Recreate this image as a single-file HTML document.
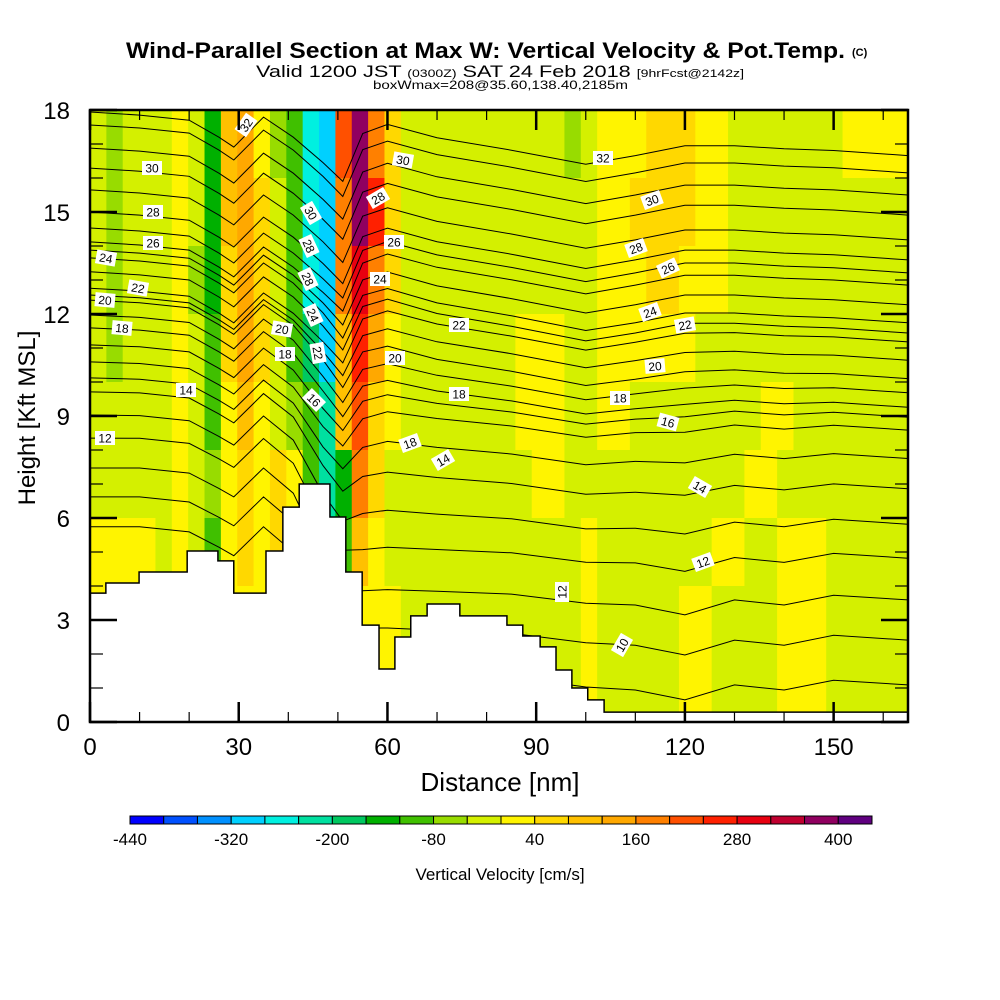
<!DOCTYPE html>
<html><head><meta charset="utf-8"><style>
body{margin:0;background:#fff}
svg{display:block}
text{font-family:"Liberation Sans",sans-serif}
</style></head><body>
<svg id="chart" width="1000" height="1000" viewBox="0 0 1000 1000">
<g id="titles">
<text x="126" y="58" font-size="22" font-weight="bold" textLength="719" lengthAdjust="spacingAndGlyphs">Wind-Parallel Section at Max W: Vertical Velocity &amp; Pot.Temp.</text>
<text x="852" y="56" font-size="11" font-weight="bold">(C)</text>
<text x="256" y="77" font-size="17" textLength="488" lengthAdjust="spacingAndGlyphs">Valid 1200 JST <tspan font-size="11">(0300Z)</tspan> SAT 24 Feb 2018 <tspan font-size="11">[9hrFcst@2142z]</tspan></text>
<text x="373" y="89" font-size="12" textLength="255" lengthAdjust="spacingAndGlyphs">boxWmax=208@35.60,138.40,2185m</text>
</g>
<defs><clipPath id="plotClip"><rect x="90" y="110" width="818" height="612"/></clipPath></defs>
<g id="field" clip-path="url(#plotClip)"></g>
<g id="contours" clip-path="url(#plotClip)"></g>
<g id="terrain"></g>
<g id="clabels" clip-path="url(#plotClip)"></g>
<g id="axes"></g>
<g id="colorbar"></g>
</svg>
<script>
// ---------- data ----------
const colorBins = ["#0000ff","#0050ff","#0090ff","#00d0ff","#00f0e0","#00e0a0","#00c860","#00b000","#40c000","#98dc00","#d4f000","#fff400","#ffd800","#ffc000","#ffa800","#ff8000","#ff5000","#ff2000","#e80010","#c00030","#900060","#600080"];
const colorbarTicks = [-440,-320,-200,-80,40,160,280,400];
// vertical velocity bin codes per 3.3 nm column, rows of 2 kft (top row = 16-18 kft)
const wRowsTop = ["a9aaaba7deb9843gkfcaaaaaaaaaa9abbbcccbbaaaaaaabbbb",
                  "a9aaaba7deca843fkhcaaaaaaaaaaaabbccccbbaaaaaaaaaaa",
                  "a9aaab97ceca843fifcaaaaaaaaaaaabbbccbbbaaaaaaaaaaa"];
const wRowsMid = ["a9aaaba8ceca863dhebaaaaaaabbbaabbbbbbaaaaaaaaaaaaa",
                  "aaaaaba8bdba985dgcbaaaaaaabbbaabbaaaaaaaabbaaaaaaa",
                  "aaaaaba9bcbcb857fcaaaaaaaaabbaaaaaaaaaaabbaaaaaaaa"];
const wRowsLow = ["bbbbaba8bcbcbaa8dbaaaaaaaaaaaabaaaaaaabbaabbbaaaaa",
                  "bbbbbbbbbbbbbbbbbbbaaaaaaaaaaabaaaaabbaaaabbbaaaaa",
                  "bbbbbbbbbbbbbbbbbbbaaaaaaaaaaabaaaaabbaaaabbbaaaaa"];
// terrain steps (nm edges, kft heights)
const terrainEdges = [0,3.2,9.9,19.6,25.8,29.0,35.5,38.9,42.2,48.4,51.6,54.9,58.3,61.5,64.7,68.0,74.6,84.1,87.3,90.8,94.0,97.2,100.4,103.7,165];
const terrainHeights = [3.79,4.09,4.41,5.03,4.74,3.79,5.03,6.32,7.0,6.03,4.41,2.85,1.56,2.5,3.12,3.47,3.12,2.85,2.53,2.21,1.53,1.0,0.65,0.29];
// potential temperature contours
const thetaLevels = [9,10,11,12,13,14,15,16,17,18,19,20,21,22,23,24,25,26,27,28,29,30,31,32,33];
const thetaLeftKft = [5.74,6.62,7.47,8.35,9.03,9.71,10.12,10.59,11.09,11.59,11.97,12.41,12.56,12.76,13.24,13.65,13.88,14.12,14.53,15.0,15.65,16.29,16.88,17.56,17.94];
const thetaRightKft = [0.94,2.26,3.44,4.71,5.79,6.91,7.85,8.74,9.18,9.53,10.0,10.47,11.03,11.59,11.88,12.18,12.71,13.29,13.65,14.03,14.62,15.35,15.94,16.59,17.1];
const knotsNm = [0,10,20,26,29,35,41,47,51,55,60,70,85,100,110,120,130,140,150,165];
const rampWeights = [0,0,0,0,0,0,0,0.2,0.5,0.75,0.85,0.9,0.92,0.95,1,1,1,1,1,1];
const dispHigh = [0,-0.09,-0.24,-0.74,-1.03,-0.15,-0.74,-1.32,-1.62,0,0.35,0,-0.35,-0.74,-0.44,-0.15,-0.15,-0.24,-0.29,-0.44];
const dispLow = [0,0,-0.15,-0.6,-0.85,0,-0.74,-1.76,-1.47,-0.59,-0.15,0,0,-0.15,0,-0.29,0.15,0,0.29,0.15];
const yTicks = [0,3,6,9,12,15,18];
const xTicks = [0,30,60,90,120,150];
const contourLabels = [
 [152,168,"30",0],[153,212,"28",0],[153,243,"26",0],[106,258,"24",10],[138,288,"22",10],[105,300,"20",5],[122,328,"18",5],[186,390,"14",0],[105,438,"12",0],
 [246,125,"32",-55],[311,213,"30",60],[309,246,"28",65],[308,279,"28",65],[313,315,"24",65],[318,353,"22",80],[314,400,"16",45],[282,329,"20",10],[285,354,"18",0],
 [403,160,"30",10],[378,198,"28",-30],[394,242,"26",0],[380,279,"24",0],[395,358,"20",0],[459,394,"18",0],[410,443,"18",-20],[443,460,"14",-30],[459,325,"22",0],
 [603,158,"32",0],[652,200,"30",-20],[636,248,"28",-20],[668,268,"26",-25],[650,312,"24",-20],[685,325,"22",-10],[655,366,"20",-5],[620,398,"18",0],
 [668,422,"16",15],[700,487,"14",30],[703,562,"12",-20],[562,592,"12",-90],[622,645,"10",-60]];

// ---------- scales ----------
const X0=90, X1=908, Y0=722, Y1=110, XMAX=165, YMAX=18;
function sx(nm){return X0+nm*(X1-X0)/XMAX;}
function sy(k){return Y0-k*(Y0-Y1)/YMAX;}
const NS="http://www.w3.org/2000/svg";
function mk(tag,attrs,parent){const e=document.createElementNS(NS,tag);for(const k in attrs)e.setAttribute(k,attrs[k]);parent.appendChild(e);return e;}
function code2bin(ch){return parseInt(ch,36);}

// ---------- field ----------
const field=document.getElementById('field');
const wRows=[].concat(wRowsTop,wRowsMid,wRowsLow);
const nCols=wRows[0].length, colNm=XMAX/nCols, rowKft=YMAX/wRows.length;
wRows.forEach((row,r)=>{
  for(let c=0;c<nCols;c++){
    const b=code2bin(row[c]);
    const top=YMAX-r*rowKft;
    const el=mk('rect',{x:sx(c*colNm),y:sy(top),width:sx((c+1)*colNm)-sx(c*colNm)+0.5,height:sy(top-rowKft)-sy(top)+0.5,fill:colorBins[b]},field);
    
    
  }
});

// ---------- contours ----------
const cg=document.getElementById('contours');
thetaLevels.forEach((lv,i)=>{
  const hL=thetaLeftKft[i], hR=thetaRightKft[i];
  const w=Math.max(0,Math.min(1,(hL-8)/5));
  const pts=knotsNm.map((nm,k)=>{
    const h=hL+(hR-hL)*rampWeights[k]+w*dispHigh[k]+(1-w)*dispLow[k];
    return sx(nm).toFixed(1)+","+sy(h).toFixed(1);
  });
  const pl=mk('polyline',{points:pts.join(" "),fill:"none",stroke:"#000","stroke-width":1},cg);
  
  
});

// ---------- terrain ----------
const tg=document.getElementById('terrain');
let d="M"+sx(0)+","+sy(0);
terrainHeights.forEach((h,i)=>{d+=" L"+sx(terrainEdges[i])+","+sy(h)+" L"+sx(terrainEdges[i+1])+","+sy(h);});
d+=" L"+sx(XMAX)+","+sy(0)+" Z";
const tp=mk('path',{d:d,fill:"#fff",stroke:"#000","stroke-width":1.5},tg);



// ---------- contour labels ----------
const lg=document.getElementById('clabels');
contourLabels.forEach(l=>{
  const g=mk('g',{transform:"translate("+l[0]+","+l[1]+") rotate("+l[3]+")"},lg);
  
  
  mk('rect',{x:-10,y:-7,width:20,height:14,fill:"#fff"},g);
  const t=mk('text',{x:0,y:4.5,"font-size":12,"text-anchor":"middle",fill:"#000"},g);
  t.textContent=l[2];
});

// ---------- axes ----------
const ag=document.getElementById('axes');
const frame=mk('rect',{x:X0,y:Y1,width:X1-X0,height:Y0-Y1,fill:"none",stroke:"#000","stroke-width":2.5},ag);


for(let k=0;k<=18;k++){
  const maj=k%3===0, L=maj?27:13, y=sy(k);
  mk('line',{x1:X0,y1:y,x2:X0+L,y2:y,stroke:"#000","stroke-width":maj?2.5:1.2},ag);
  mk('line',{x1:X1,y1:y,x2:X1-L,y2:y,stroke:"#000","stroke-width":maj?2.5:1.2},ag);
}
for(let n=0;n<=160;n+=10){
  const maj=n%30===0, L=maj?20:10, x=sx(n);
  mk('line',{x1:x,y1:Y0,x2:x,y2:Y0-L,stroke:"#000","stroke-width":maj?2.5:1.2},ag);
  mk('line',{x1:x,y1:Y1,x2:x,y2:Y1+L,stroke:"#000","stroke-width":maj?2.5:1.2},ag);
}
yTicks.forEach(v=>{
  const t=mk('text',{x:70,y:sy(v)+9,"font-size":24,"text-anchor":"end"},ag);
  
  
  t.textContent=v;
});
xTicks.forEach(v=>{
  const t=mk('text',{x:sx(v),y:755,"font-size":24,"text-anchor":"middle"},ag);
  
  
  t.textContent=v;
});
const xt=mk('text',{x:500,y:791,"font-size":26,"text-anchor":"middle"},ag);


xt.textContent="Distance [nm]";
const yt=mk('text',{x:0,y:0,"font-size":24,"text-anchor":"middle",transform:"translate(35,418) rotate(-90)"},ag);


yt.textContent="Height [Kft MSL]";

// ---------- colorbar ----------
const cb=document.getElementById('colorbar');
const cbX0=130, cbX1=872, cbW=(cbX1-cbX0)/colorBins.length;
colorBins.forEach((c,i)=>{
  const r=mk('rect',{x:cbX0+i*cbW,y:816,width:cbW,height:8,fill:c,stroke:"#000","stroke-width":1},cb);
  
  
});
colorbarTicks.forEach(v=>{
  const i=(v+440)/40;
  const t=mk('text',{x:cbX0+i*cbW,y:845,"font-size":17,"text-anchor":"middle"},cb);
  
  
  t.textContent=v;
});
const cbt=mk('text',{x:500,y:880,"font-size":17,"text-anchor":"middle"},cb);


cbt.textContent="Vertical Velocity [cm/s]";
</script>
</body></html>
